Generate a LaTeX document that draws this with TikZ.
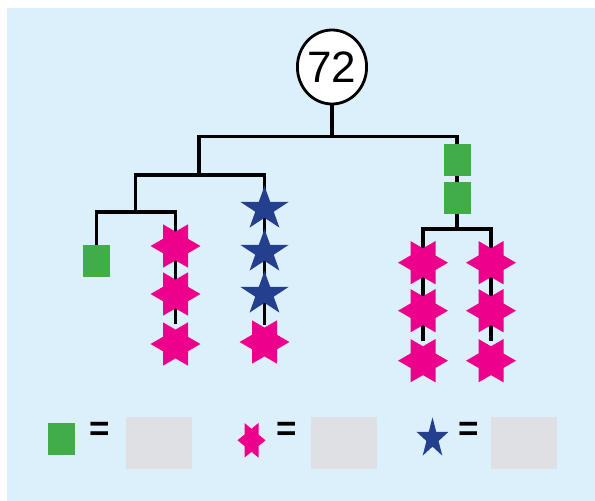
\documentclass[tikz,border=0pt]{standalone}
\usepackage{fontspec}
\setmainfont{Liberation Sans}
\usetikzlibrary{shapes.geometric,calc}
\definecolor{bgblue}{HTML}{DBF0FB}
\definecolor{sqgreen}{HTML}{41AD49}
\definecolor{starpink}{HTML}{EC008C}
\definecolor{starblue}{HTML}{253F8F}
\definecolor{boxgray}{HTML}{DFE0E3}
\pgfdeclarelayer{bglayer}
\pgfdeclarelayer{linelayer}
\pgfsetlayers{bglayer,linelayer,main}
% hexagram at named coordinate #1, radii #2 (x) and #3 (y)
\newcommand\hexstar[3]{\fill[starpink,shift={(#1)},xscale=#2,yscale=#3]
  (0:1)--(30:.5774)--(60:1)--(90:.5774)--(120:1)--(150:.5774)--(180:1)--(210:.5774)--(240:1)--(270:.5774)--(300:1)--(330:.5774)--cycle;}
% five-pointed star at named coordinate #1, radii #2 (x) and #3 (y)
\newcommand\fivestar[3]{\fill[starblue,shift={(#1)},xscale=#2,yscale=#3]
  (-90:1)--(-54:.382)--(-18:1)--(18:.382)--(54:1)--(90:.382)--(126:1)--(162:.382)--(198:1)--(234:.382)--cycle;}
\begin{document}
\begin{tikzpicture}[x=1pt,y=-1pt,
  conn/.style={line width=3.8pt},
  sq/.style={fill=sqgreen,minimum width=27pt,minimum height=32pt,inner sep=0pt},
  box/.style={fill=boxgray,minimum width=66pt,minimum height=52pt,inner sep=0pt},
  eq/.style={font=\fontsize{35}{35}\bfseries\selectfont,inner sep=0pt}]
\useasboundingbox (0,0) rectangle (595,501);
\begin{pgfonlayer}{bglayer}
\fill[bgblue] (7,7.5) rectangle (595,501);
\end{pgfonlayer}

% root
\node[ellipse,draw,line width=2.8pt,fill=white,minimum width=69pt,minimum height=74pt,inner sep=0pt,
  font=\fontsize{44}{44}\selectfont] (root) at (332,67) {72};

% junctions
\coordinate (tb) at (332,136.5);
\coordinate (j1) at (199,174.7);
\coordinate (j3) at (135.5,211.7);
\coordinate (j2) at (457,229.3);

% green squares
\node[sq] (gsq) at (96.5,261) {};
\node[sq] (sq1) at (457,160) {};
\node[sq] (sq2) at (457,198) {};

% left pink column
\coordinate (p1) at (175.5,246);
\coordinate (p2) at (175.5,294);
\coordinate (p3) at (175.5,344);
\coordinate (pend) at ($(p3)+(0,-20)$);
% blue column
\coordinate (b1) at (264.5,209);
\coordinate (b2) at (264.5,252);
\coordinate (b3) at (264.5,294);
\coordinate (b4) at (264.5,342);
\coordinate (bend) at ($(b4)+(0,-17)$);
% right columns
\coordinate (r1) at (423,262.7);
\coordinate (r2) at (423,310.7);
\coordinate (r3) at (423,360.7);
\coordinate (rend) at ($(r3)+(0,-20)$);
\coordinate (s1) at (491,262.7);
\coordinate (s2) at (491,310.7);
\coordinate (s3) at (491,360.7);
\coordinate (send) at ($(s3)+(0,-20)$);

\begin{pgfonlayer}{linelayer}
\draw[conn] (root) -- (tb);
\draw[conn] (j1) |- (tb) -| (sq1);
\draw[conn] (sq1) -- (sq2) -- (j2);
\draw[conn] (rend) |- (j2) -| (send);
\draw[conn] (j3) |- (j1) -| (bend);
\draw[conn] (gsq) |- (j3) -| (pend);
\end{pgfonlayer}

\hexstar{p1}{25}{25}
\hexstar{p2}{25}{25}
\hexstar{p3}{25}{25}
\fivestar{b1}{25.4}{23}
\fivestar{b2}{25.4}{23}
\fivestar{b3}{25.4}{23}
\hexstar{b4}{25}{25}
\hexstar{r1}{25}{25}
\hexstar{r2}{25}{25}
\hexstar{r3}{25}{25}
\hexstar{s1}{25}{25}
\hexstar{s2}{25}{25}
\hexstar{s3}{25}{25}

% legend
\node[sq] (lg) at (61.5,439) {};
\node[eq] (e1) at (99.7,431.7) {=};
\node[box] (x1) at (159,443) {};
\coordinate (lp) at (251.5,440.3);
\hexstar{lp}{14}{20}
\node[eq] (e2) at (286.4,431.7) {=};
\node[box] (x2) at (344,443) {};
\coordinate (lb) at (432.5,438.5);
\fivestar{lb}{16.7}{21.2}
\node[eq] (e3) at (468.7,431.7) {=};
\node[box] (x3) at (524,443) {};
\end{tikzpicture}
\end{document}
